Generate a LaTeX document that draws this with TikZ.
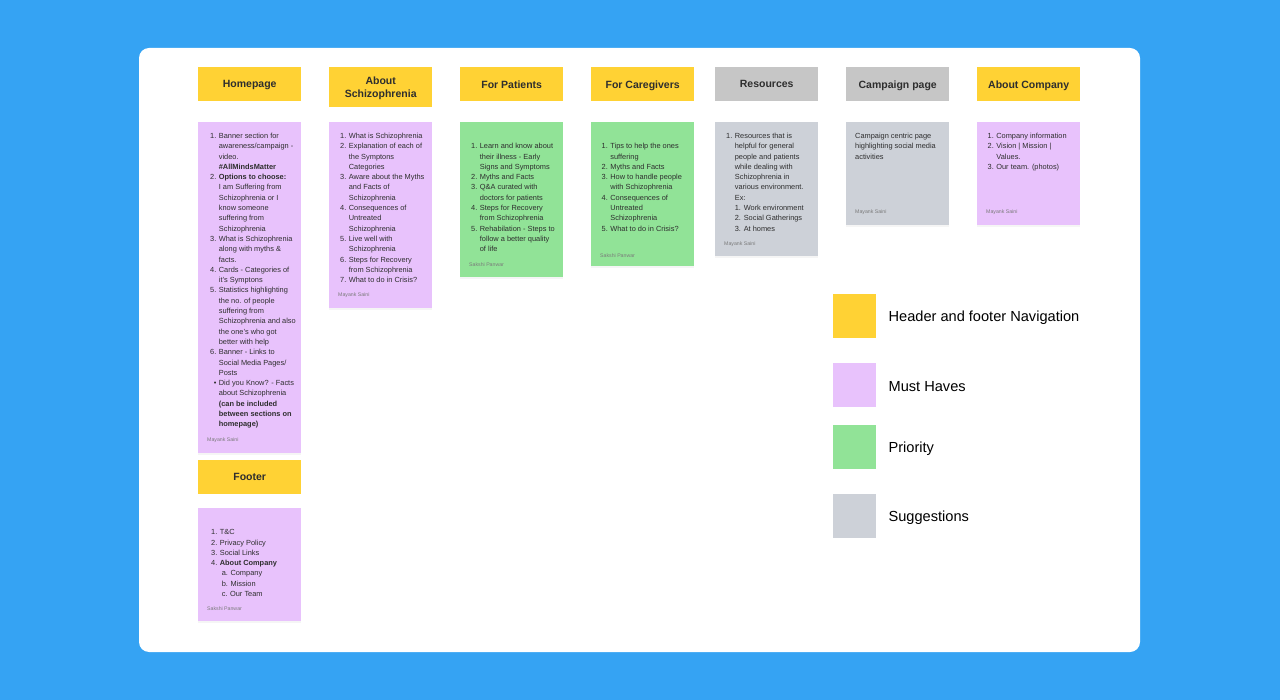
\documentclass[tikz,border=0pt]{standalone}
\usepackage{fontspec}
\setmainfont{Liberation Sans}
\usetikzlibrary{positioning,shadows}

\definecolor{skyblue}{HTML}{35A3F3}
\definecolor{navyellow}{HTML}{FFD234}
\definecolor{musthave}{HTML}{E8C2FC}
\definecolor{priority}{HTML}{91E397}
\definecolor{suggest}{HTML}{CDD1D8}
\definecolor{suggesthead}{HTML}{C6C6C6}
\definecolor{ink}{HTML}{2E2E2E}
\definecolor{signink}{HTML}{7A7A7A}

\newcommand\notelist[1]{\begin{tabular}{@{}r@{\hspace{2.5pt}}l@{}}#1\end{tabular}}

\begin{document}
\begin{tikzpicture}[x=1pt,y=-1pt,
    header/.style={anchor=north west,minimum width=103pt,minimum height=34pt,inner sep=0pt,
        text depth=0pt,align=center,text=ink,font=\fontsize{10.5}{13}\selectfont\bfseries},
    note/.style={anchor=north west,minimum width=103pt,inner sep=0pt,
        drop shadow={opacity=.08,shadow xshift=0pt,shadow yshift=-1.5pt}},
    notetext/.style={anchor=north west,inner sep=0pt,text=ink,align=left,
        font=\fontsize{7.4}{10.3}\selectfont},
    sign/.style={anchor=west,inner sep=0pt,text=signink,font=\fontsize{5.2}{6}\selectfont},
    legbox/.style={anchor=north west,minimum width=43pt,minimum height=44pt,inner sep=0pt},
    legtext/.style={right=12pt of #1,yshift=-1.5pt,inner sep=0pt,text=black,
        font=\fontsize{14.6}{17}\selectfont}
]
    \useasboundingbox (0,0) rectangle (1280,700);
    \fill[skyblue] (0,0) rectangle (1280,700);
    \fill[white,rounded corners=10pt] (139,48) rectangle (1140,652);

    % headers
    \node[header,fill=navyellow] (hHome) at (198,67) {Homepage};
    \node[header,fill=navyellow,minimum height=40pt] (hAbout) at (329,67) {About\\Schizophrenia};
    \node[header,fill=navyellow] (hPatients) at (460,67) {For Patients};
    \node[header,fill=navyellow] (hCarers) at (591,67) {For Caregivers};
    \node[header,fill=suggesthead] (hResources) at (715,67) {Resources};
    \node[header,fill=suggesthead] (hCampaign) at (846,67) {Campaign page};
    \node[header,fill=navyellow] (hCompany) at (977,67) {About Company};
    \node[header,fill=navyellow] (hFooter) at (198,460) {Footer};

    % sticky notes
    \node[note,fill=musthave,minimum height=331pt] (nHome) at (198,122) {};
    \node[note,fill=musthave,minimum height=186pt] (nAbout) at (329,122) {};
    \node[note,fill=priority,minimum height=155pt] (nPatients) at (460,122) {};
    \node[note,fill=priority,minimum height=144pt] (nCarers) at (591,122) {};
    \node[note,fill=suggest,minimum height=134pt] (nResources) at (715,122) {};
    \node[note,fill=suggest,minimum height=103pt] (nCampaign) at (846,122) {};
    \node[note,fill=musthave,minimum height=103pt] (nCompany) at (977,122) {};
    \node[note,fill=musthave,minimum height=113pt] (nFooter) at (198,508) {};

    % note texts
    \node[notetext] (tHome) at (210,131) {\notelist{
        1. & Banner section for\\
           & awareness/campaign -\\
           & video.\\
           & \textbf{\#AllMindsMatter}\\
        2. & \textbf{Options to choose:}\\
           & I am Suffering from\\
           & Schizophrenia or I\\
           & know someone\\
           & suffering from\\
           & Schizophrenia\\
        3. & What is Schizophrenia\\
           & along with myths \&\\
           & facts.\\
        4. & Cards - Categories of\\
           & it's Symptons\\
        5. & Statistics highlighting\\
           & the no. of people\\
           & suffering from\\
           & Schizophrenia and also\\
           & the one's who got\\
           & better with help\\
        6. & Banner - Links to\\
           & Social Media Pages/\\
           & Posts\\
        \textbullet & Did you Know? - Facts\\
           & about Schizophrenia\\
           & \textbf{(can be included}\\
           & \textbf{between sections on}\\
           & \textbf{homepage)}}};
    \node[sign] (sHome) at (207,440) {Mayank Saini};

    \node[notetext] (tAbout) at (340,131) {\notelist{
        1. & What is Schizophrenia\\
        2. & Explanation of each of\\
           & the Symptons\\
           & Categories\\
        3. & Aware about the Myths\\
           & and Facts of\\
           & Schizophrenia\\
        4. & Consequences of\\
           & Untreated\\
           & Schizophrenia\\
        5. & Live well with\\
           & Schizophrenia\\
        6. & Steps for Recovery\\
           & from Schizophrenia\\
        7. & What to do in Crisis?}};
    \node[sign] (sAbout) at (338,295) {Mayank Saini};

    \node[notetext] (tPatients) at (471,141.3) {\notelist{
        1. & Learn and know about\\
           & their illness - Early\\
           & Signs and Symptoms\\
        2. & Myths and Facts\\
        3. & Q\&A curated with\\
           & doctors for patients\\
        4. & Steps for Recovery\\
           & from Schizophrenia\\
        5. & Rehabilation - Steps to\\
           & follow a better quality\\
           & of life}};
    \node[sign] (sPatients) at (469,265) {Sakshi Panwar};

    \node[notetext] (tCarers) at (601.5,141.3) {\notelist{
        1. & Tips to help the ones\\
           & suffering\\
        2. & Myths and Facts\\
        3. & How to handle people\\
           & with Schizophrenia\\
        4. & Consequences of\\
           & Untreated\\
           & Schizophrenia\\
        5. & What to do in Crisis?}};
    \node[sign] (sCarers) at (600,255.5) {Sakshi Panwar};

    \node[notetext] (tResources) at (726,131) {\notelist{
        1. & Resources that is\\
           & helpful for general\\
           & people and patients\\
           & while dealing with\\
           & Schizophrenia in\\
           & various environment.\\
           & Ex:\\
           & 1. Work environment\\
           & 2. Social Gatherings\\
           & 3. At homes}};
    \node[sign] (sResources) at (724,244) {Mayank Saini};

    \node[notetext] (tCampaign) at (855,131) {\begin{tabular}{@{}l@{}}
        Campaign centric page\\
        highlighting social media\\
        activities\end{tabular}};
    \node[sign] (sCampaign) at (855,212.5) {Mayank Saini};

    \node[notetext] (tCompany) at (987.5,131) {\notelist{
        1. & Company information\\
        2. & Vision | Mission |\\
           & Values.\\
        3. & Our team. (photos)}};
    \node[sign] (sCompany) at (986,212.5) {Mayank Saini};

    \node[notetext] (tFooter) at (211,527.3) {\notelist{
        1. & T\&C\\
        2. & Privacy Policy\\
        3. & Social Links\\
        4. & \textbf{About Company}\\
           & \hspace{2pt}a.\hspace{2.5pt}Company\\
           & \hspace{2pt}b.\hspace{2.5pt}Mission\\
           & \hspace{2pt}c.\hspace{2.5pt}Our Team}};
    \node[sign] (sFooter) at (207,608.5) {Sakshi Panwar};

    % legend
    \node[legbox,fill=navyellow] (lgNav) at (833,294) {};
    \node[legbox,fill=musthave] (lgMust) at (833,363) {};
    \node[legbox,fill=priority] (lgPriority) at (833,425) {};
    \node[legbox,fill=suggest] (lgSuggest) at (833,494) {};
    \node[legtext=lgNav] (ltNav) {Header and footer Navigation};
    \node[legtext=lgMust] (ltMust) {Must Haves};
    \node[legtext=lgPriority] (ltPriority) {Priority};
    \node[legtext=lgSuggest] (ltSuggest) {Suggestions};

\end{tikzpicture}
\end{document}
